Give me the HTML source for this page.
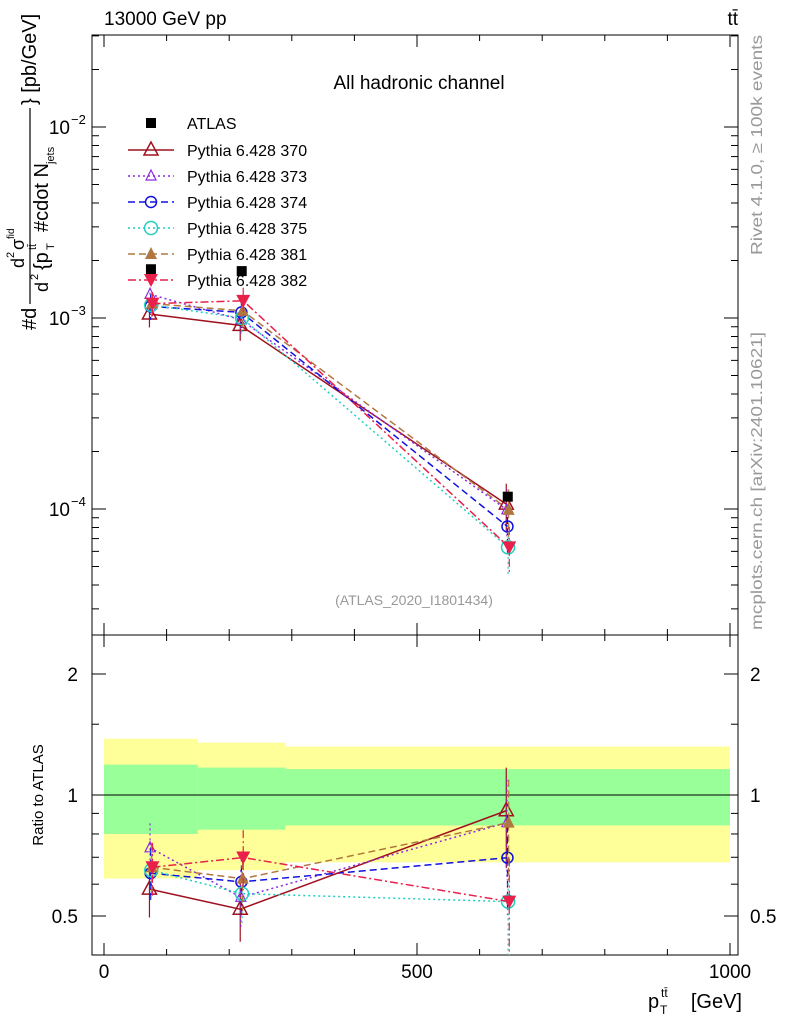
<!DOCTYPE html>
<html><head><meta charset="utf-8"><style>
body{margin:0;background:#fff}
svg{display:block;font-family:"Liberation Sans",sans-serif}
</style></head><body>
<svg id="c" width="786" height="1024" viewBox="0 0 786 1024">
</svg>
<script>
const bins = [0,150,290,1000];
const xCenters = [75,220,645];
const dataVals = [1.8e-3,1.76e-3,1.16e-4];
const bandInner = [[0.80,1.19],[0.82,1.17],[0.84,1.16]];
const bandOuter = [[0.62,1.38],[0.65,1.35],[0.68,1.32]];
const series = ['Pythia 6.428 370','Pythia 6.428 373','Pythia 6.428 374','Pythia 6.428 375','Pythia 6.428 381','Pythia 6.428 382'];
const mc370 = [1.05e-3,0.915e-3,1.06e-4];
const mc373 = [1.33e-3,0.98e-3,0.99e-4];
const mc374 = [1.15e-3,1.07e-3,0.81e-4];
const mc375 = [1.17e-3,1.00e-3,0.63e-4];
const mc381 = [1.19e-3,1.09e-3,0.99e-4];
const mc382 = [1.19e-3,1.23e-3,0.63e-4];
const mcRelErr = [0.15,0.17,0.28];
const xTicks = [0,500,1000];
const ratioTicks = [0.5,1,2];

const S = document.getElementById('c');
const NS = 'http://www.w3.org/2000/svg';
function el(tag, attrs, parent){const e=document.createElementNS(NS,tag);for(const k in attrs)e.setAttribute(k,attrs[k]);(parent||S).appendChild(e);return e;}
const L=92,R=738,T=35,MB=635,RB=955;
const X=v=>104+v*0.626;
const Y=v=>509-(Math.log10(v)+4)*191;
const YR=v=>795-Math.log10(v)*402;

for(let i=0;i<3;i++){
  const b=el('rect',{x:X(bins[i]),width:X(bins[i+1])-X(bins[i]),y:YR(bandOuter[i][1]),height:YR(bandOuter[i][0])-YR(bandOuter[i][1]),fill:'#ffff99'});
  
  
  const g=el('rect',{x:X(bins[i]),width:X(bins[i+1])-X(bins[i]),y:YR(bandInner[i][1]),height:YR(bandInner[i][0])-YR(bandInner[i][1]),fill:'#99ff99'});
  
  
}
el('line',{x1:L,x2:R,y1:YR(1),y2:YR(1),stroke:'#000','stroke-width':1});

const f1=el('rect',{x:L,y:T,width:R-L,height:MB-T,fill:'none',stroke:'#000','stroke-width':1});

const f2=el('rect',{x:L,y:MB,width:R-L,height:RB-MB,fill:'none',stroke:'#000','stroke-width':1});


for(let v=0;v<=1000;v+=100){
  const big=v%500===0, len=big?12:6;
  el('line',{x1:X(v),x2:X(v),y1:MB,y2:MB-len,stroke:'#000'});
  el('line',{x1:X(v),x2:X(v),y1:T,y2:T+len,stroke:'#000'});
  el('line',{x1:X(v),x2:X(v),y1:RB,y2:RB-len,stroke:'#000'});
  el('line',{x1:X(v),x2:X(v),y1:MB,y2:MB+len,stroke:'#000'});
}
xTicks.forEach(v=>{const t=el('text',{x:X(v),y:978,'font-size':19,'text-anchor':'middle'});t.textContent=v;
});

for(let e=-5;e<=-1;e++){for(let m=1;m<10;m++){const v=m*Math.pow(10,e);const y=Y(v);if(y<T||y>MB)continue;const len=m===1?14:7;
el('line',{x1:L,x2:L+len,y1:y,y2:y,stroke:'#000'});el('line',{x1:R,x2:R-len,y1:y,y2:y,stroke:'#000'});}}
[-2,-3,-4].forEach(e=>{const t=el('text',{x:70,y:Y(Math.pow(10,e))+7,'font-size':19,'text-anchor':'end'});t.textContent='10';

const s=el('text',{x:71,y:Y(Math.pow(10,e))-3,'font-size':13});s.textContent='−'+(-e);});

[0.4,0.5,0.6,0.7,0.8,0.9,1,1.5,2].forEach(v=>{const y=YR(v);const big=ratioTicks.includes(v);const len=big?14:7;
el('line',{x1:L,x2:L+len,y1:y,y2:y,stroke:'#000'});el('line',{x1:R,x2:R-len,y1:y,y2:y,stroke:'#000'});});
ratioTicks.forEach(v=>{const t=el('text',{x:78,y:YR(v)+7,'font-size':19,'text-anchor':'end'});t.textContent=v;

const t2=el('text',{x:750,y:YR(v)+7,'font-size':19});t2.textContent=v;});

function marker(kind,x,y,color,g){
  if(kind==='sq')el('rect',{x:x-5,y:y-5,width:10,height:10,fill:'#000'},g);
  else if(kind==='tri')el('path',{d:`M${x},${y-8}L${x+7},${y+5}L${x-7},${y+5}Z`,fill:'none',stroke:color,'stroke-width':1.5},g);
  else if(kind==='trif')el('path',{d:`M${x},${y-7}L${x+6},${y+5}L${x-6},${y+5}Z`,fill:color},g);
  else if(kind==='tris')el('path',{d:`M${x},${y-6}L${x+5},${y+4}L${x-5},${y+4}Z`,fill:'none',stroke:color,'stroke-width':1.2},g);
  else if(kind==='circ')el('circle',{cx:x,cy:y,r:5.5,fill:'none',stroke:color,'stroke-width':1.5},g);
  else if(kind==='circl')el('circle',{cx:x,cy:y,r:6.5,fill:'none',stroke:color,'stroke-width':1.5},g);
  else if(kind==='itri')el('path',{d:`M${x},${y+7}L${x+7},${y-6}L${x-7},${y-6}Z`,fill:color},g);
}
const styles=[
 {vals:mc370,color:'#a0101f',dash:'',m:'tri',name:'series-370'},
 {vals:mc373,color:'#8a2be2',dash:'2,3',m:'tris',name:'series-373'},
 {vals:mc374,color:'#1010e0',dash:'7,4',m:'circ',name:'series-374'},
 {vals:mc375,color:'#20d0c0',dash:'2,3',m:'circl',name:'series-375'},
 {vals:mc381,color:'#b07840',dash:'7,4',m:'trif',name:'series-381'},
 {vals:mc382,color:'#e8204a',dash:'8,3,2,3',m:'itri',name:'series-382'}];
styles.forEach((s,si)=>{
  const g=el('g',{});
  
  
  const off=(si-2.5)*0.6;
  const pm=s.vals.map((v,i)=>`${X(xCenters[i])+off},${Y(v)}`).join(' ');
  el('polyline',{points:pm,fill:'none',stroke:s.color,'stroke-width':1.5,'stroke-dasharray':s.dash},g);
  const pr=s.vals.map((v,i)=>`${X(xCenters[i])+off},${YR(v/dataVals[i])}`).join(' ');
  el('polyline',{points:pr,fill:'none',stroke:s.color,'stroke-width':1.5,'stroke-dasharray':s.dash},g);
  s.vals.forEach((v,i)=>{
    const x=X(xCenters[i])+off,e=mcRelErr[i];
    el('line',{x1:x,x2:x,y1:Y(v*(1+e)),y2:Y(v*(1-e)),stroke:s.color,'stroke-width':1.2,'stroke-dasharray':s.dash},g);
    const r=v/dataVals[i];
    el('line',{x1:x,x2:x,y1:YR(r*(1+e)),y2:Math.min(RB,YR(r*(1-e))),stroke:s.color,'stroke-width':1.2,'stroke-dasharray':s.dash},g);
    marker(s.m,x,Y(v),s.color,g);marker(s.m,x,YR(r),s.color,g);
  });
});
dataVals.forEach((v,i)=>{const g=el('g',{});marker('sq',X(xCenters[i]),Y(v),'#000',g);});

const lg=el('g',{});
marker('sq',151,123,'#000',lg);
let t=el('text',{x:187,y:129,'font-size':16},lg);t.textContent='ATLAS';
styles.forEach((s,i)=>{const y=150+i*26;
 const e=el('g',{},lg);
 el('line',{x1:128,x2:174,y1:y,y2:y,stroke:s.color,'stroke-width':1.5,'stroke-dasharray':s.dash},e);
 marker(s.m,151,y,s.color,e);
 const tt=el('text',{x:187,y:y+6,'font-size':16},e);tt.textContent=series[i];});

function txt(x,y,s,attrs,name){const t=el('text',Object.assign({x,y},attrs));t.textContent=s;return t;}
txt(104,25,'13000 GeV pp',{'font-size':19},'header-left');
txt(738,25,'tt̄',{'font-size':19,'text-anchor':'end'},'header-right');
txt(419,89,'All hadronic channel',{'font-size':19,'text-anchor':'middle'},'plot-title');
txt(414,605,'(ATLAS_2020_I1801434)',{'font-size':14,'text-anchor':'middle',fill:'#999'},'analysis-id');
txt(762,255,'Rivet 4.1.0, ≥ 100k events',{'font-size':16,fill:'#999',transform:'rotate(-90 762 255)','textLength':220,lengthAdjust:'spacingAndGlyphs'},'rivet-label');
txt(762,630,'mcplots.cern.ch [arXiv:2401.10621]',{'font-size':16,fill:'#999',transform:'rotate(-90 762 630)','textLength':298,lengthAdjust:'spacingAndGlyphs'},'mcplots-label');
txt(38,855,'Ratio to ATLAS',{'font-size':15,'text-anchor':'middle',transform:'rotate(-90 38 795)'},'ratio-y-title').setAttribute('y',800);
txt(742,1008,'[GeV]',{'font-size':20,'text-anchor':'end'},'x-axis-title');
txt(648,1008,'p',{'font-size':20},'x-axis-title-p');
txt(660,1014,'T',{'font-size':12},'x-sub');txt(661,997,'tt̄',{'font-size':12},'x-sup');
const yl=el('g',{transform:'rotate(-90 30 330)'});
[['#d',30,336,20],['d',92,324,18],['2',102,314,11],['σ',110,324,18],['fid',121,314,10],['d',68,348,18],['2',80,338,11],['{p',90,348,20],['T',110,354,11],['tt̄',110,336,11],['#cdot N',128,348,20],['jets',196,354,11],['} [pb/GeV]',255,336,20]].forEach(a=>{const q=el('text',{x:a[1],y:a[2],'font-size':a[3]},yl);q.textContent=a[0];});
el('line',{x1:56,x2:252,y1:330,y2:330,stroke:'#000','stroke-width':1.2},yl);
</script>
</body></html>
